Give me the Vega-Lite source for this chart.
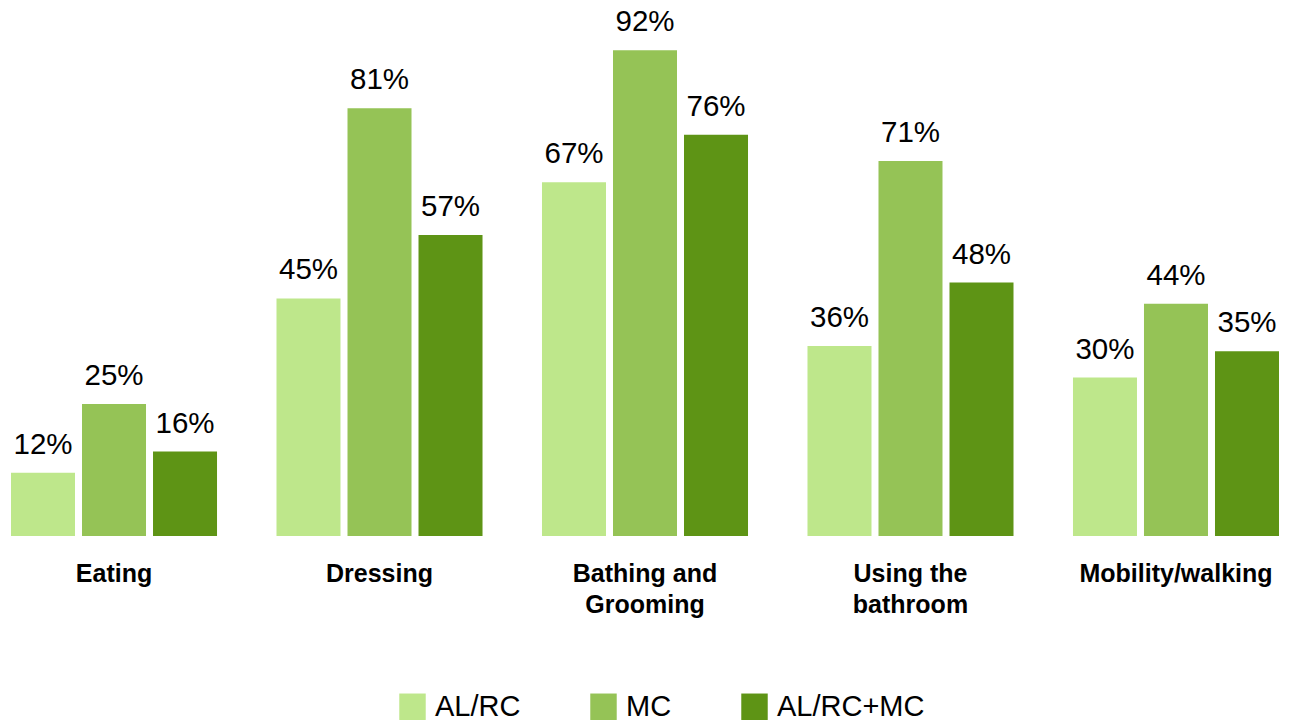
{
  "$schema": "https://vega.github.io/schema/vega-lite/v6.json",
  "autosize": "none",
  "width": 1268,
  "height": 528,
  "padding": {"left": 11, "top": 8, "right": 11, "bottom": 187},
  "background": "white",
  "config": {
    "font": "Liberation Sans",
    "view": {"stroke": null}
  },
  "data": {
    "values": [
      {"activity": "Eating", "setting": "AL/RC", "pct": 12},
      {"activity": "Eating", "setting": "MC", "pct": 25},
      {"activity": "Eating", "setting": "AL/RC+MC", "pct": 16},
      {"activity": "Dressing", "setting": "AL/RC", "pct": 45},
      {"activity": "Dressing", "setting": "MC", "pct": 81},
      {"activity": "Dressing", "setting": "AL/RC+MC", "pct": 57},
      {"activity": "Bathing and Grooming", "setting": "AL/RC", "pct": 67},
      {"activity": "Bathing and Grooming", "setting": "MC", "pct": 92},
      {"activity": "Bathing and Grooming", "setting": "AL/RC+MC", "pct": 76},
      {"activity": "Using the bathroom", "setting": "AL/RC", "pct": 36},
      {"activity": "Using the bathroom", "setting": "MC", "pct": 71},
      {"activity": "Using the bathroom", "setting": "AL/RC+MC", "pct": 48},
      {"activity": "Mobility/walking", "setting": "AL/RC", "pct": 30},
      {"activity": "Mobility/walking", "setting": "MC", "pct": 44},
      {"activity": "Mobility/walking", "setting": "AL/RC+MC", "pct": 35}
    ]
  },
  "encoding": {
    "x": {
      "field": "activity",
      "type": "nominal",
      "sort": null,
      "scale": {"paddingInner": 0.224, "paddingOuter": 0},
      "axis": {
        "title": null,
        "domain": false,
        "ticks": false,
        "labelAngle": 0,
        "labelFontSize": 25,
        "labelFontWeight": "bold",
        "labelColor": "#000000",
        "labelPadding": 25,
        "labelLineHeight": 31,
        "labelLimit": 400,
        "labelExpr": "datum.value == 'Bathing and Grooming' ? ['Bathing and', 'Grooming'] : datum.value == 'Using the bathroom' ? ['Using the', 'bathroom'] : datum.label"
      }
    },
    "xOffset": {
      "field": "setting",
      "type": "nominal",
      "sort": ["AL/RC", "MC", "AL/RC+MC"],
      "scale": {"paddingInner": 0.0986, "paddingOuter": 0}
    },
    "y": {
      "field": "pct",
      "type": "quantitative",
      "scale": {"domain": [0, 100], "nice": false},
      "axis": null
    }
  },
  "layer": [
    {
      "mark": {"type": "bar"},
      "encoding": {
        "color": {
          "field": "setting",
          "type": "nominal",
          "scale": {
            "domain": ["AL/RC", "MC", "AL/RC+MC"],
            "range": ["#BEE78B", "#95C356", "#5E9415"]
          },
          "legend": {
            "title": null,
            "orient": "none",
            "legendX": 387,
            "legendY": 684,
            "direction": "horizontal",
            "symbolType": "square",
            "symbolSize": 700,
            "symbolStrokeWidth": 0,
            "symbolOpacity": 1,
            "labelFontSize": 29,
            "labelColor": "#000000",
            "labelOffset": 8,
            "columnPadding": 68
          }
        }
      }
    },
    {
      "mark": {
        "type": "text",
        "baseline": "alphabetic",
        "dy": -19,
        "fontSize": 29.5,
        "color": "#000000",
        "text": {"expr": "datum.pct + '%'"}
      }
    }
  ]
}
